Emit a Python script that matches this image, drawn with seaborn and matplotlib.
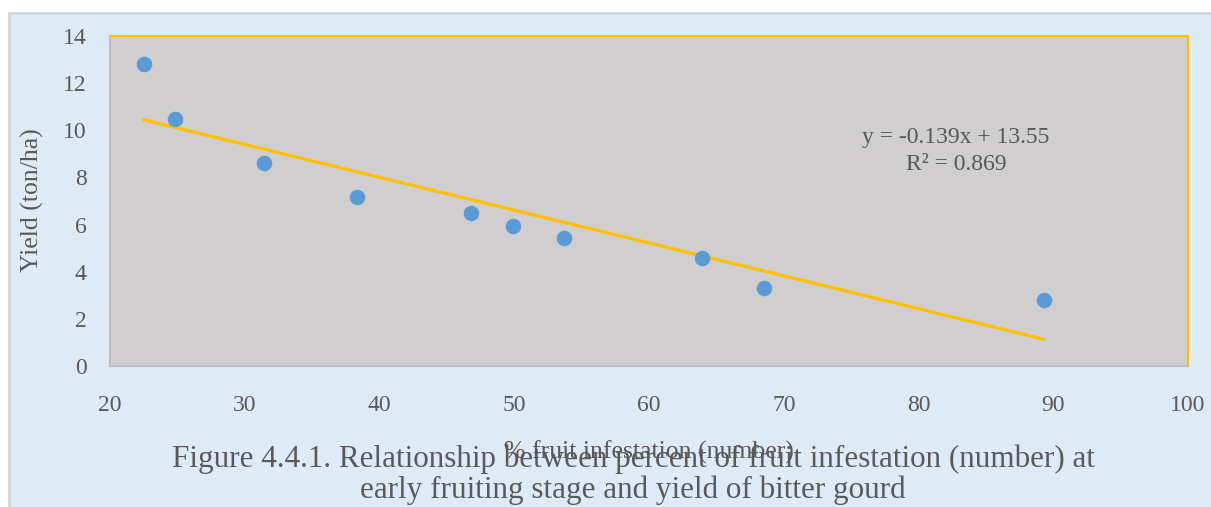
import numpy as np
import pandas as pd
import matplotlib
matplotlib.use('Agg')
import matplotlib.pyplot as plt
from matplotlib.patches import Rectangle
import seaborn as sns

# values
infestation = [22.5, 24.8, 31.4, 38.3, 46.8, 49.9, 53.7, 63.9, 68.5, 89.3]
yield_t_ha  = [12.8, 10.5, 8.6, 7.15, 6.5, 5.95, 5.45, 4.6, 3.3, 2.8]
x_ticks     = [20, 30, 40, 50, 60, 70, 80, 90, 100]
y_ticks     = [0, 2, 4, 6, 8, 10, 12, 14]
eq_text     = 'y = -0.139x + 13.55\nR² = 0.869'
x_label     = '% fruit infestation (number)'
y_label     = 'Yield (ton/ha)'
caption_1   = 'Figure 4.4.1. Relationship between percent of fruit infestation (number) at'
caption_2   = 'early fruiting stage and yield of bitter gourd'

df = pd.DataFrame({'infest': infestation, 'yield': yield_t_ha})

BLUE_BG  = '#DEEAF6'
PLOT_BG  = '#D0CECE'
ORANGE   = '#FFC000'
POINT    = '#5B9BD5'
TXT      = '#595959'

sns.set_theme(style='white')
plt.rcParams['font.family'] = ['Liberation Serif', 'DejaVu Serif']

fig = plt.figure(figsize=(12.11, 5.07), dpi=100)
fig.patch.set_facecolor('white')
fig.patches.append(Rectangle((9/1211, -0.05), 1.05, 1 - 13/507 + 0.05,
                             transform=fig.transFigure, facecolor=BLUE_BG,
                             edgecolor='#D4D4D4', lw=2, zorder=-10))

ax = fig.add_axes([110/1211, 1 - 366/507, 1078/1211, 330/507])
ax.set_facecolor(PLOT_BG)

sns.regplot(data=df, x='infest', y='yield', ax=ax, ci=None, truncate=True,
            scatter_kws={'s': 125, 'color': POINT, 'alpha': 1, 'linewidths': 0, 'zorder': 3},
            line_kws={'color': ORANGE, 'lw': 2.3, 'zorder': 2})

ax.set_xlim(20, 100)
ax.set_ylim(0, 14)
ax.set_xticks(x_ticks)
ax.set_yticks(y_ticks)
ax.tick_params(axis='x', length=0, pad=21, labelsize=17, labelcolor=TXT)
ax.tick_params(axis='y', length=0, pad=17, labelsize=17, labelcolor=TXT)

for side in ['top', 'right']:
    ax.spines[side].set_color(ORANGE)
    ax.spines[side].set_linewidth(1.5)
for side in ['left', 'bottom']:
    ax.spines[side].set_color('#BFBFBF')
    ax.spines[side].set_linewidth(1.5)

ax.set_xlabel(x_label, fontsize=18.5, color=TXT)
ax.set_ylabel(y_label, fontsize=18.5, color=TXT)
ax.xaxis.set_label_coords(0.5, (366 - 452) / 330)
ax.xaxis.label.set_va('center')
ax.yaxis.set_label_coords((32 - 110) / 1078, (366 - 200) / 330)
ax.yaxis.label.set_va('center')

ax.text((956 - 110) / 1078, (366 - 151) / 330, eq_text, transform=ax.transAxes,
        ha='center', va='center', multialignment='center',
        fontsize=17, color=TXT, linespacing=1.35)

fig.text(633/1211, 1 - 459/507, caption_1, ha='center', va='center', fontsize=22.4, color=TXT)
fig.text(633/1211, 1 - 490/507, caption_2, ha='center', va='center', fontsize=22.4, color=TXT)

fig.savefig('out.png', dpi=100, facecolor=fig.get_facecolor())
